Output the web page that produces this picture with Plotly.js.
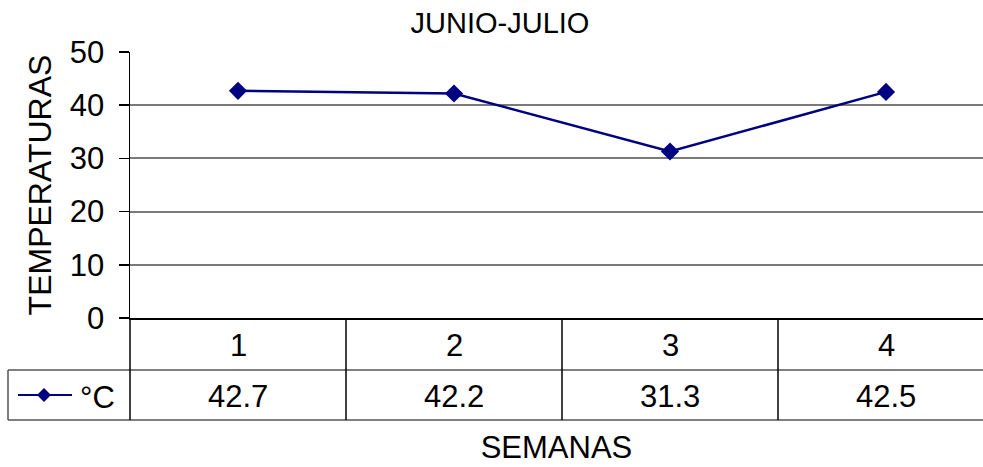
<!DOCTYPE html>
<html>
<head>
<meta charset="utf-8">
<script src="https://cdn.plot.ly/plotly-3.0.1.min.js"></script>
<style>html,body{margin:0;padding:0;background:#fff;}#chart{width:983px;height:467px;}</style>
</head>
<body>
<div id="chart"></div>
<script>
const weeks = ['1', '2', '3', '4'];
const temps = [42.7, 42.2, 31.3, 42.5];
const tempLabels = ['42.7', '42.2', '31.3', '42.5'];
const seriesName = '°C';
const chartTitle = 'JUNIO-JULIO';
const xTitle = 'SEMANAS';
const yTitle = 'TEMPERATURAS';
const yTicks = [0, 10, 20, 30, 40, 50];

const FONT = 'Arial, "Liberation Sans", sans-serif';
const W = 983, H = 467;
const L = 130, T = 52, B = 318;
const plotH = B - T;
const py = p => (B - p) / plotH;          // pixel y -> paper y
const px = p => (p - L) / (W - L);        // pixel x -> paper x
const FS = 31;

const shapes = [];
const line = (x0, y0, x1, y1, xref, color, w) => shapes.push({type: 'line', xref: xref, yref: 'paper', x0: x0, x1: x1, y0: y0, y1: y1, line: {color: color, width: w}, layer: 'above'});
// table horizontal lines
line(px(8), py(370), 1, py(370), 'paper', '#555', 1.5);
line(px(8), py(420), 1, py(420), 'paper', '#555', 1.5);
// table vertical lines
line(px(8), py(370), px(8), py(420), 'paper', '#555', 1.5);
line(0, 0, 0, py(420), 'paper', '#000', 1.5);
for (let i = 0; i < weeks.length - 1; i++) {
  line(i + 0.5, 0, i + 0.5, py(420), 'x', '#000', 1.5);
}
// legend key inside table
line(px(18), py(395), px(72), py(395), 'paper', '#000080', 2);
shapes.push({type: 'path', xref: 'paper', yref: 'paper', xsizemode: 'pixel', ysizemode: 'pixel',
  xanchor: px(44), yanchor: py(395), path: 'M -7 0 L 0 7 L 7 0 L 0 -7 Z',
  fillcolor: '#000080', line: {color: '#000080', width: 0}, layer: 'above'});

const annotations = [];
weeks.forEach((w, i) => annotations.push({x: i, y: py(345), xref: 'x', yref: 'paper', text: w, showarrow: false,
  font: {family: FONT, size: FS, color: '#000'}, xanchor: 'center', yanchor: 'middle'}));
tempLabels.forEach((v, i) => annotations.push({x: i, y: py(396), xref: 'x', yref: 'paper', text: v, showarrow: false,
  font: {family: FONT, size: FS, color: '#000'}, xanchor: 'center', yanchor: 'middle'}));
annotations.push({x: px(78), y: py(397), xref: 'paper', yref: 'paper', text: seriesName, showarrow: false,
  font: {family: FONT, size: FS, color: '#000'}, xanchor: 'left', yanchor: 'middle'});

const data = [{
  type: 'scatter', mode: 'lines+markers', name: seriesName,
  x: weeks, y: temps,
  line: {color: '#000080', width: 2.5},
  marker: {symbol: 'diamond', size: 14, color: '#000080'},
  cliponaxis: false, hoverinfo: 'x+y'
}];

const layout = {
  width: W, height: H,
  margin: {l: L, r: 0, t: T, b: H - B, pad: 0},
  paper_bgcolor: '#fff', plot_bgcolor: '#fff',
  showlegend: false,
  title: {text: chartTitle, font: {family: FONT, size: 29, color: '#000'}, x: 500 / W, xref: 'container', xanchor: 'center', y: 1 - 23 / H, yanchor: 'middle'},
  xaxis: {
    type: 'category', range: [-0.5, -0.5 + (W - L) / 216], showticklabels: false, ticks: '',
    showgrid: false, zeroline: false, showline: true, linecolor: '#000', linewidth: 1.5,
    title: {text: xTitle, font: {family: FONT, size: 31, color: '#000'}, standoff: 118}, automargin: false
  },
  yaxis: {
    range: [0, 50], tickvals: yTicks, ticktext: yTicks.map(String),
    ticks: 'outside', ticklen: 10, tickcolor: '#000', tickwidth: 1.5, ticklabelstandoff: 8,
    showline: true, linecolor: '#000', linewidth: 1.5,
    showgrid: true, gridcolor: '#7a7a7a', gridwidth: 2, zeroline: false,
    tickfont: {family: FONT, size: FS, color: '#000'},
    title: {text: yTitle, font: {family: FONT, size: 32, color: '#000'}, standoff: 8}, automargin: false
  },
  shapes: shapes,
  annotations: annotations
};

Plotly.newPlot('chart', data, layout, {displayModeBar: false, staticPlot: true});
</script>
</body>
</html>
